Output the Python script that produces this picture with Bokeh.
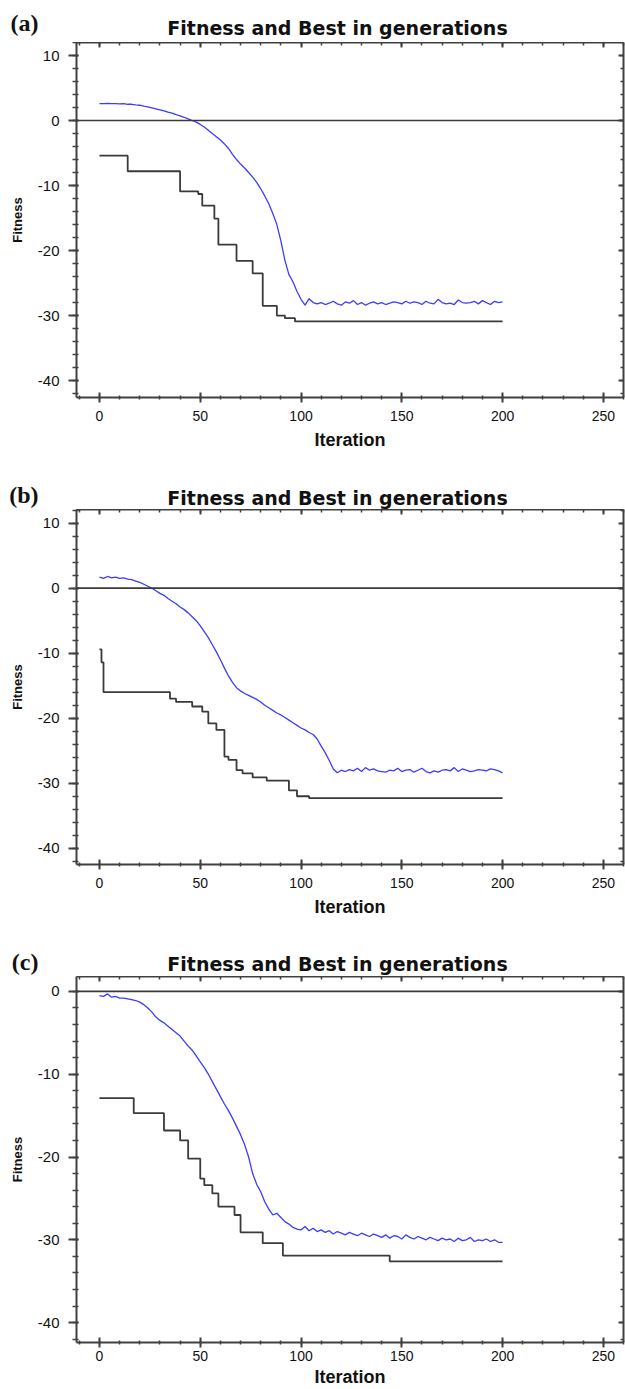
from bokeh.plotting import figure
from bokeh.models import Range1d, LinearAxis, FixedTicker, Span, CustomJSTickFormatter
from bokeh.core.properties import value
from bokeh.layouts import column
from bokeh.embed import file_html
from bokeh.resources import INLINE

# ---------------- data ----------------
panel_tags = ["(a)", "(b)", "(c)"]
title_text = "Fitness and Best in generations"
x_label = "Iteration"
y_label = "Fitness"
x_major_ticks = [0, 50, 100, 150, 200, 250]
y_major_ticks_ab = [-40, -30, -20, -10, 0, 10]
y_major_ticks_c = [-40, -30, -20, -10, 0]

# mean fitness per generation, sampled every 2 iterations (0..200)
fitness_a = [2.6, 2.6, 2.65, 2.6, 2.6, 2.55, 2.6, 2.5, 2.5, 2.4,
             2.35, 2.2, 2.1, 1.95, 1.8, 1.65, 1.5, 1.3, 1.15, 0.9,
             0.7, 0.5, 0.25, 0.0, -0.25, -0.6, -1.0, -1.5, -2.0, -2.5,
             -3.0, -3.6, -4.3, -5.2, -6.0, -6.7, -7.3, -8.0, -8.7, -9.5,
             -10.5, -11.6, -12.8, -14.3, -16.0, -18.5, -21.5, -23.7, -24.8, -26.3,
             -27.5, -28.4, -27.4, -28.0, -28.2,
             -28.0, -28.3, -28.1, -27.8, -28.2, -28.4, -27.9, -28.1, -27.7, -28.3,
             -28.0, -28.4, -28.1, -27.9, -28.2, -28.0, -28.3, -28.1, -27.9, -28.0,
             -28.2, -27.8, -28.1, -27.9, -28.0, -28.3, -27.8, -28.1, -28.2, -27.5,
             -28.0, -28.2, -28.1, -28.3, -27.6, -28.0, -28.1, -28.0, -27.8, -28.2,
             -27.7, -28.0, -28.3, -27.8, -28.0, -27.9]
fitness_b = [1.7, 1.5, 1.8, 1.6, 1.7, 1.5, 1.6, 1.4, 1.3, 1.1,
             0.9, 0.6, 0.3, 0.0, -0.4, -0.8, -1.1, -1.6, -2.0, -2.4,
             -2.9, -3.3, -3.8, -4.4, -5.0, -5.8, -6.7, -7.6, -8.7, -9.8,
             -11.0, -12.3, -13.5, -14.5, -15.3, -15.8, -16.2, -16.5, -16.8, -17.1,
             -17.5, -18.0, -18.4, -18.8, -19.2, -19.5, -19.9, -20.3, -20.7, -21.1,
             -21.5, -21.8, -22.2, -22.5, -23.2, -24.3, -25.3, -26.5, -27.8, -28.4,
             -28.0, -28.2, -27.9, -28.1, -27.7, -28.2, -27.6, -28.0, -27.8, -28.1,
             -28.2, -28.3, -28.0, -28.1, -27.7, -28.2, -28.0, -27.9, -28.3, -28.0,
             -27.7, -28.2, -28.4, -28.1, -28.3, -28.0, -27.9, -28.1, -27.6, -28.2,
             -27.8, -28.0, -28.2, -28.1, -27.9, -28.0, -28.1, -27.8, -27.9, -28.1,
             -28.4]
fitness_c = [-0.5, -0.6, -0.3, -0.7, -0.6, -0.8, -0.8, -0.9, -1.0, -1.1,
             -1.3, -1.6, -2.0, -2.5, -3.1, -3.5, -3.8, -4.2, -4.6, -5.0,
             -5.4, -6.0, -6.6, -7.1, -7.8, -8.5, -9.2, -10.0, -10.9, -11.8,
             -12.7, -13.6, -14.4, -15.3, -16.3, -17.3, -18.5, -20.0, -22.0, -23.3,
             -24.2, -25.4, -26.3, -27.0, -26.8, -27.3, -27.8, -28.1, -28.5, -28.7,
             -28.8, -28.4, -28.9, -28.6, -29.0,
             -28.8, -29.1, -28.9, -29.3, -29.0, -29.2, -29.4, -29.1, -29.3, -29.5,
             -29.2, -29.4, -29.6, -29.3, -29.5, -29.7, -29.4, -29.8, -29.5, -29.6,
             -29.9, -29.4, -29.7, -29.9, -29.6, -29.8, -30.0, -29.7, -29.9, -30.1,
             -29.8, -30.0, -29.9, -30.2, -29.8, -30.1, -30.0, -29.7, -30.2, -30.0,
             -30.1, -29.9, -30.2, -30.0, -30.3, -30.3]

# best-so-far: iterations where the best value changes, and the new value
best_x_a = [0, 14, 40, 49, 51, 57, 59, 68, 76, 81, 88, 92, 97, 200]
best_y_a = [-5.4, -7.8, -10.9, -11.3, -13.1, -15.1, -19.1, -21.6, -23.5, -28.5, -30.0, -30.4, -30.9, -30.9]
best_x_b = [0, 1, 2, 35, 38, 46, 51, 54, 58, 62, 64, 68, 71, 76, 83, 94, 98, 104, 200]
best_y_b = [-9.4, -11.4, -16.0, -17.0, -17.5, -18.2, -19.0, -20.8, -21.8, -25.9, -26.4, -28.0, -28.5, -29.1,
            -29.6, -31.1, -32.0, -32.3, -32.3]
best_x_c = [0, 17, 32, 40, 44, 50, 52, 56, 59, 67, 70, 81, 91, 144, 200]
best_y_c = [-12.9, -14.7, -16.8, -18.0, -20.2, -22.6, -23.4, -24.4, -26.0, -27.0, -29.1, -30.4, -31.9, -32.6, -32.6]

BLUE = "#3c3cff"
DARK = "#3a3a3a"
AXIS = "#404040"
SANS = "Liberation Sans"
W = 625
LEFT = 76
RIGHT = 2

plain_numbers = "return String(tick)"
no_labels = "return ''"


def make_header(tag, height, tag_center_from_top, title_baseline_from_top):
    h = figure(width=W, height=height, x_range=Range1d(0, W - LEFT - RIGHT), y_range=Range1d(0, height),
               output_backend="svg", toolbar_location=None,
               x_axis_location=None, y_axis_location="left",
               min_border_left=LEFT, min_border_right=RIGHT, min_border_top=0, min_border_bottom=0,
               outline_line_color=None)
    h.xgrid.visible = False
    h.ygrid.visible = False
    ax = h.yaxis[0]
    ax.ticker = FixedTicker(ticks=[height - tag_center_from_top], minor_ticks=[])
    ax.formatter = CustomJSTickFormatter(code="return '%s'" % tag)
    ax.axis_line_color = None
    ax.major_tick_line_color = None
    ax.minor_tick_line_color = None
    ax.major_tick_in = 0
    ax.major_tick_out = 0
    ax.major_label_standoff = 38
    ax.major_label_text_font = "Liberation Serif"
    ax.major_label_text_font_style = "bold"
    ax.major_label_text_font_size = "24px"
    ax.major_label_text_color = "#111111"
    h.text(x=[261], y=[height - title_baseline_from_top], text=[title_text],
           text_font=value("DejaVu Sans"), text_font_style="bold", text_font_size="19px",
           text_color="#111111", text_baseline="alphabetic", text_align="center")
    return h


def make_panel(fitness, bx, by, y_lo, y_hi, y_major, height, bottom_border, compact=False):
    p = figure(width=W, height=height,
               x_range=Range1d(-11.4, 260), y_range=Range1d(y_lo, y_hi),
               output_backend="svg", toolbar_location=None,
               min_border_left=LEFT, min_border_right=RIGHT, min_border_top=0,
               min_border_bottom=bottom_border)
    p.xgrid.visible = False
    p.ygrid.visible = False
    p.outline_line_color = None

    x_minor = list(range(-10, 261, 10))
    y_minor = [v for v in range(-42, 14, 2) if y_lo <= v <= y_hi]

    xa = p.xaxis[0]
    xa.ticker = FixedTicker(ticks=x_major_ticks, minor_ticks=x_minor)
    xa.formatter = CustomJSTickFormatter(code=plain_numbers)
    xa.axis_line_color = AXIS
    xa.axis_line_width = 2
    xa.major_tick_line_color = AXIS
    xa.major_tick_line_width = 2
    xa.minor_tick_line_color = AXIS
    xa.minor_tick_line_width = 1.5
    xa.major_tick_in = 5
    xa.major_tick_out = 5
    xa.minor_tick_in = 2
    xa.minor_tick_out = 2
    xa.major_label_text_font = SANS
    xa.major_label_text_font_size = "14px"
    xa.major_label_text_color = "#111111"
    xa.major_label_standoff = 3 if compact else 8
    xa.axis_label = x_label
    xa.axis_label_text_font = SANS
    xa.axis_label_text_font_style = "bold"
    xa.axis_label_text_font_size = "18px"
    xa.axis_label_text_color = "#111111"
    xa.axis_label_standoff = 3 if compact else 6

    ya = p.yaxis[0]
    ya.ticker = FixedTicker(ticks=y_major, minor_ticks=y_minor)
    ya.formatter = CustomJSTickFormatter(code=plain_numbers)
    ya.axis_line_color = AXIS
    ya.axis_line_width = 2
    ya.major_tick_line_color = AXIS
    ya.major_tick_line_width = 2
    ya.minor_tick_line_color = AXIS
    ya.minor_tick_line_width = 1.5
    ya.major_tick_in = 2
    ya.major_tick_out = 8
    ya.minor_tick_in = 2
    ya.minor_tick_out = 4
    ya.major_label_text_font = SANS
    ya.major_label_text_font_size = "15px"
    ya.major_label_text_color = "#111111"
    ya.major_label_standoff = 9
    ya.axis_label = y_label
    ya.axis_label_text_font = SANS
    ya.axis_label_text_font_style = "bold"
    ya.axis_label_text_font_size = "13px"
    ya.axis_label_text_color = "#111111"
    ya.axis_label_standoff = 10

    common = dict(axis_line_color=AXIS, axis_line_width=2,
                  major_tick_line_color=AXIS, major_tick_line_width=2,
                  minor_tick_line_color=AXIS, minor_tick_line_width=1.5,
                  major_tick_in=5, major_tick_out=0, minor_tick_in=3, minor_tick_out=0,
                  major_label_standoff=0, major_label_text_font_size="0px",
                  axis_label=None)
    top = LinearAxis(ticker=FixedTicker(ticks=x_major_ticks, minor_ticks=x_minor),
                     formatter=CustomJSTickFormatter(code=no_labels), **common)
    p.add_layout(top, "above")
    right = LinearAxis(ticker=FixedTicker(ticks=y_major, minor_ticks=y_minor),
                       formatter=CustomJSTickFormatter(code=no_labels), **common)
    p.add_layout(right, "right")

    p.add_layout(Span(location=0, dimension="width", line_color=DARK, line_width=1.6))

    xs = list(range(0, 2 * len(fitness), 2))
    p.step(bx, by, mode="after", line_color=DARK, line_width=1.8)
    p.line(xs, fitness, line_color=BLUE, line_width=1.3)
    return p


ha = make_header(panel_tags[0], 42, 22, 27)
pa = make_panel(fitness_a, best_x_a, best_y_a, -42.6, 12.0, y_major_ticks_ab, 433, 78)
hb = make_header(panel_tags[1], 34, 19, 22)
pb = make_panel(fitness_b, best_x_b, best_y_b, -42.5, 12.1, y_major_ticks_ab, 433, 78)
hc = make_header(panel_tags[2], 34, 19, 21)
pc = make_panel(fitness_c, best_x_c, best_y_c, -42.4, 1.8, y_major_ticks_c, 413, 40, compact=True)

layout = column(ha, pa, hb, pb, hc, pc, spacing=0)
open("out.html", "w").write(file_html(layout, INLINE))
